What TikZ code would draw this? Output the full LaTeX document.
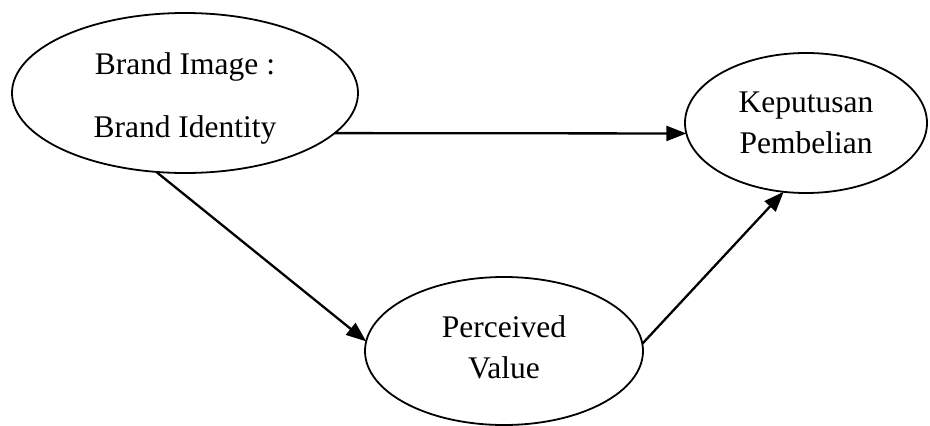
\documentclass[tikz,border=0pt]{standalone}
\usepackage{fontspec}
\setmainfont{Liberation Serif}
\usetikzlibrary{shapes.geometric,arrows.meta}
\begin{document}
\begin{tikzpicture}[x=1pt,y=-1pt,%%
  ovalStyle/.style={ellipse,draw,line width=1.8pt,inner sep=0pt,outer sep=0pt,align=center,font=\fontsize{31.5}{41}\selectfont},
  arrowStyle/.style={-{Triangle[length=20pt,width=15pt]},line width=2.3pt,draw}
]
%%
\useasboundingbox (0,0) rectangle (930,426);
%%
%% The three constructs.
\node[ovalStyle,minimum width=346pt,minimum height=160pt] (brand) at (185,93) {\rule{0pt}{33pt}Brand Image :\\[22pt]Brand Identity};
\node[ovalStyle,minimum width=242pt,minimum height=140pt] (decision) at (806,123) {Keputusan\\Pembelian};
\node[ovalStyle,minimum width=278pt,minimum height=148pt] (value) at (504,351) {Perceived\\Value\rule[-7pt]{0pt}{0pt}};
%%
%% The paths between them.
\path[arrowStyle] (brand.-15) -- (decision.185);
\path[arrowStyle] (brand.-110.6) -- (value.176.7);
\path[arrowStyle] (value.3.3) -- (decision.-108.2);
\end{tikzpicture}
\end{document}
